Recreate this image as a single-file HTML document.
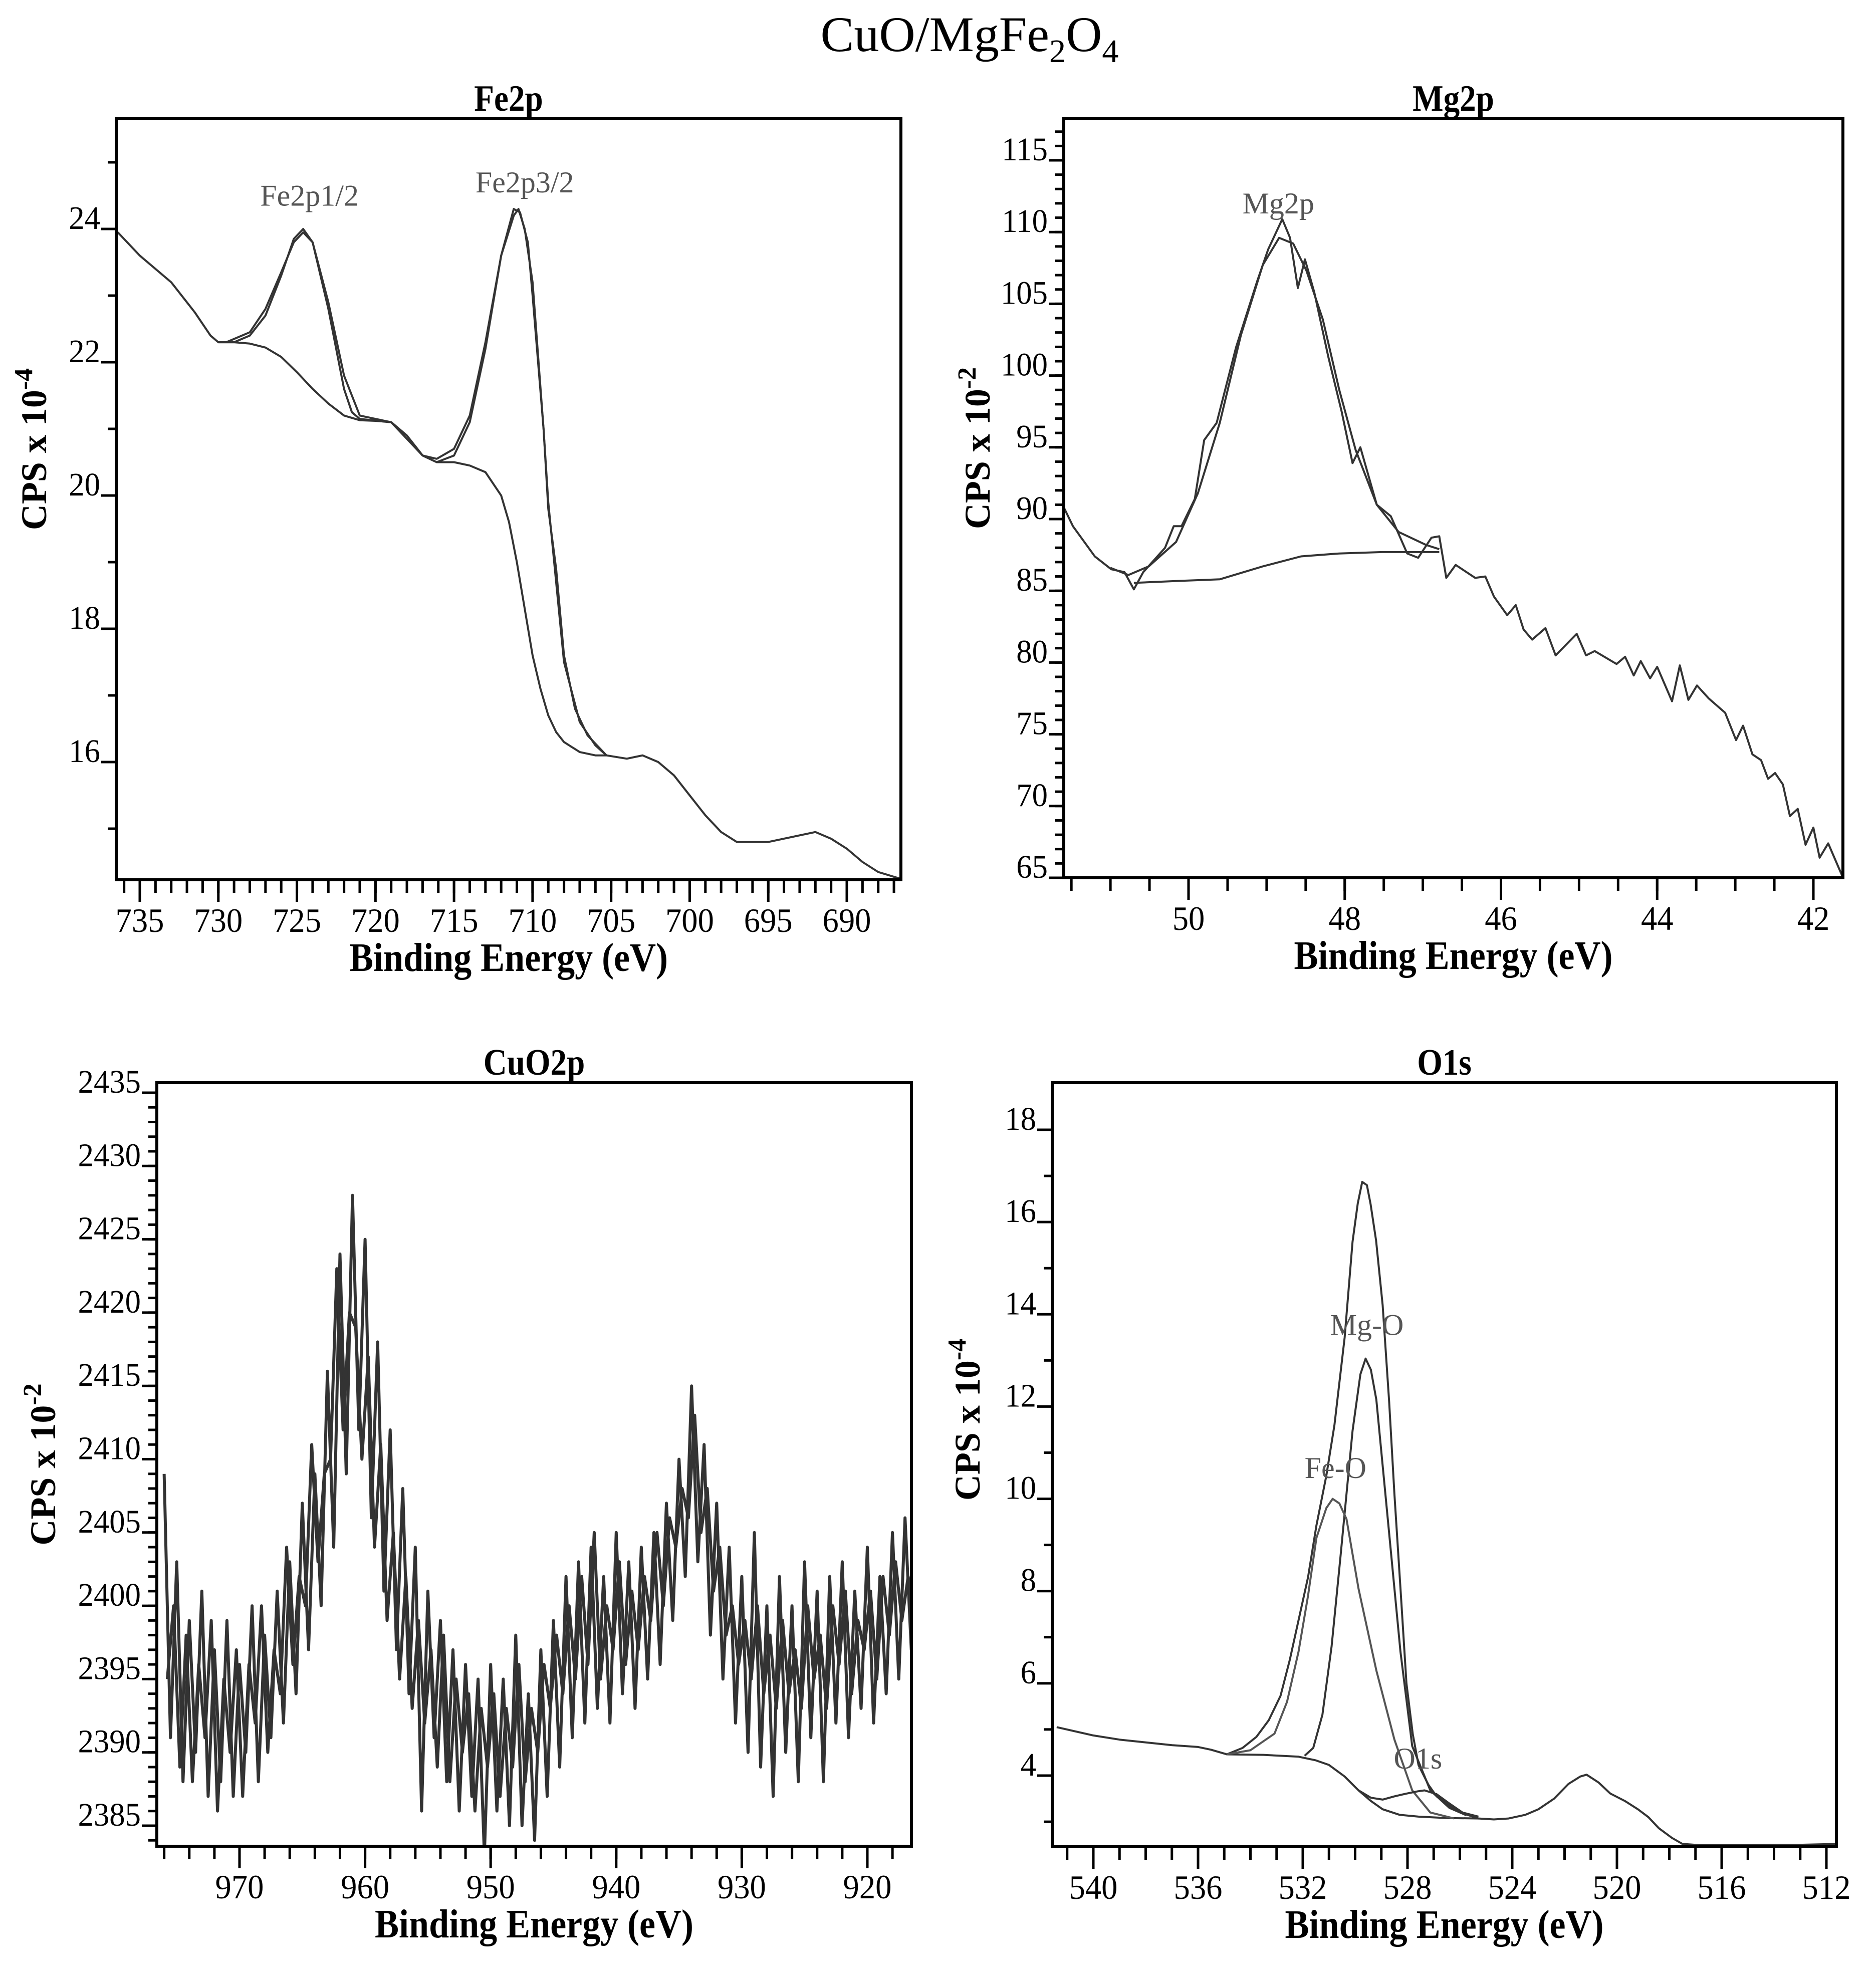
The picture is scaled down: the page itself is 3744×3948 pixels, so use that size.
<!DOCTYPE html>
<html><head><meta charset="utf-8"><title>CuO/MgFe2O4 XPS</title>
<style>html,body{margin:0;padding:0;background:#fff}svg{display:block}</style></head>
<body>
<svg id="fig" xmlns="http://www.w3.org/2000/svg" width="3744" height="3948" viewBox="0 0 3744 3948" font-family="'Liberation Serif', serif">
<text x="1935" y="102" text-anchor="middle" font-size="100" textLength="595" lengthAdjust="spacingAndGlyphs">CuO/MgFe<tspan font-size="66" dy="22">2</tspan><tspan dy="-22">O</tspan><tspan font-size="66" dy="22">4</tspan></text>
</svg>
<script>
// ---------- Fe2p data ----------
const feBE  = [736.4,735,733,731.5,730.5,730,729,728,727,726,725.2,724.6,724,723,722,721,720,719,718,717,716.1,715,714,713,712,711.2,710.8,710.3,710,709.3,709,708.5,708,707.3,706.5,705.3,704,703,702,701,700,699,698,697,695,693,692,691,690,689,688,686.6];
const feRaw = [23.95,23.6,23.2,22.75,22.4,22.3,22.3,22.4,22.7,23.3,23.85,24.0,23.8,22.9,21.8,21.2,21.15,21.1,20.9,20.6,20.5,20.6,21.1,22.2,23.6,24.3,24.25,23.8,23.0,21.0,19.8,18.9,17.6,16.8,16.4,16.1,16.05,16.1,16.0,15.8,15.5,15.2,14.95,14.8,14.8,14.9,14.95,14.85,14.7,14.5,14.35,14.25];
const feBgBE = [730,729,728,727,726,725,724,723,722,721,720,719,718,717,716.1,715,714,713,712,711.5,711,710.5,710,709.5,709,708.5,708,707,706,705.3];
const feBg   = [22.3,22.3,22.28,22.22,22.08,21.85,21.6,21.38,21.2,21.13,21.12,21.1,20.9,20.6,20.5,20.5,20.45,20.35,20.0,19.6,19.0,18.3,17.6,17.1,16.7,16.45,16.3,16.15,16.1,16.1];
const feFitBE = [729.5,728,727,726,725.2,724.6,724,723,722,721.5,721,719,717,716.1,715,714,713,712,711.2,710.9,710.5,710,709.3,709,708.5,708,707,706,705.3];
const feFit   = [22.3,22.45,22.8,23.35,23.8,23.95,23.8,22.8,21.6,21.25,21.15,21.1,20.6,20.55,20.7,21.2,22.3,23.6,24.2,24.3,24.0,23.2,21.0,19.9,18.7,17.5,16.6,16.25,16.1];
const feLabels = ['Fe2p1/2','Fe2p3/2'];
const feLabelBE = [724.2,710.5];
const feLabelY = [24.35,24.55];

// ---------- Mg2p data ----------
const mgBE  = [51.6,51.48,51.2,50.99,50.82,50.7,50.58,50.3,50.19,50.09,49.92,49.8,49.64,49.39,49.12,48.98,48.8,48.7,48.6,48.51,48.39,48.21,48.04,47.9,47.8,47.59,47.41,47.2,47.06,46.89,46.79,46.7,46.58,46.33,46.2,46.09,45.92,45.81,45.71,45.6,45.43,45.3,45.03,44.91,44.8,44.52,44.41,44.3,44.21,44.09,44.0,43.81,43.71,43.6,43.49,43.34,43.13,42.99,42.9,42.78,42.67,42.58,42.49,42.39,42.3,42.2,42.1,42.0,41.92,41.81,41.62];
const mgRaw = [90.85,89.5,87.4,86.5,86.3,85.1,86.3,88.0,89.5,89.5,91.4,95.5,96.7,102,106.6,108.8,110.9,109.6,106.1,108.1,105.8,101.3,97.5,93.9,95,91,90.2,87.6,87.3,88.7,88.8,85.9,86.8,85.9,86,84.6,83.3,84,82.3,81.6,82.4,80.5,82,80.5,80.8,79.9,80.4,79.1,80.1,78.9,79.7,77.3,79.8,77.4,78.4,77.5,76.5,74.6,75.6,73.6,73.2,71.9,72.3,71.5,69.3,69.8,67.3,68.5,66.4,67.4,65.0];
const mgFitBE = [51.0,50.77,50.51,50.16,49.88,49.6,49.33,49.05,48.84,48.66,48.49,48.28,48.07,47.86,47.59,47.31,46.96,46.79];
const mgFit   = [86.6,86.1,86.7,88.4,91.8,96.7,102.8,107.7,109.6,109.2,107.3,103.9,99,94.8,91,89.1,88.2,87.9];
const mgBgBE = [50.7,50.09,49.6,49.05,48.56,48.07,47.52,46.79];
const mgBg   = [85.55,85.7,85.8,86.7,87.4,87.6,87.7,87.7];
const mgLabels = ['Mg2p'];
const mgLabelBE = [48.85];
const mgLabelY = [111.3];

// ---------- CuO2p data ----------
const cuBE = [976,975.5,975,974.5,974,973.5,973,972.5,972,971.5,971,970.5,970,969.5,969,968.5,968,967.5,967,966.5,966,965.5,965,964.5,964,963.5,963,962.5,962,961.5,961,960.5,960,959.5,959,958.5,958,957.5,957,956.5,956,955.5,955,954.5,954,953.5,953,952.5,952,951.5,951,950.5,950,949.5,949,948.5,948,947.5,947,946.5,946,945.5,945,944.5,944,943.5,943,942.5,942,941.5,941,940.5,940,939.5,939,938.5,938,937.5,937,936.5,936,935.5,935,934.5,934,933.5,933,932.5,932,931.5,931,930.5,930,929.5,929,928.5,928,927.5,927,926.5,926,925.5,925,924.5,924,923.5,923,922.5,922,921.5,921,920.5,920,919.5,919,918.5,918,917.5,917,916.5,915.6];
const cuCPS = [2409,2391,2403,2388,2399,2390,2401,2387,2397,2388,2399,2387,2396,2390,2400,2388,2398,2391,2401,2392,2403,2394,2407,2397,2409,2400,2416,2404,2424,2409,2428,2412,2425,2406,2418,2401,2412,2397,2408,2394,2404,2386,2401,2391,2399,2388,2397,2386,2396,2387,2395,2383,2396,2386,2395,2385,2398,2385,2394,2384,2397,2387,2399,2389,2402,2391,2403,2392,2404,2393,2402,2392,2405,2394,2403,2393,2404,2395,2405,2396,2407,2399,2410,2402,2415,2403,2411,2398,2407,2395,2404,2392,2402,2390,2405,2389,2400,2387,2402,2390,2400,2388,2403,2391,2401,2388,2402,2392,2403,2391,2401,2393,2404,2392,2402,2394,2405,2395,2406,2397,2404];
const cuBE2 = [975.75,975.25,974.75,974.25,973.75,973.25,972.75,972.25,971.75,971.25,970.75,970.25,969.75,969.25,968.75,968.25,967.75,967.25,966.75,966.25,965.75,965.25,964.75,964.25,963.75,963.25,962.75,962.25,961.75,961.25,960.75,960.25,959.75,959.25,958.75,958.25,957.75,957.25,956.75,956.25,955.75,955.25,954.75,954.25,953.75,953.25,952.75,952.25,951.75,951.25,950.75,950.25,949.75,949.25,948.75,948.25,947.75,947.25,946.75,946.25,945.75,945.25,944.75,944.25,943.75,943.25,942.75,942.25,941.75,941.25,940.75,940.25,939.75,939.25,938.75,938.25,937.75,937.25,936.75,936.25,935.75,935.25,934.75,934.25,933.75,933.25,932.75,932.25,931.75,931.25,930.75,930.25,929.75,929.25,928.75,928.25,927.75,927.25,926.75,926.25,925.75,925.25,924.75,924.25,923.75,923.25,922.75,922.25,921.75,921.25,920.75,920.25,919.75,919.25,918.75,918.25,917.75,917.25,916.75,916.25];
const cuCPS2 = [2395,2400,2389,2398,2388,2396,2391,2399,2386,2395,2390,2397,2387,2396,2392,2400,2390,2397,2394,2404,2396,2402,2400,2411,2403,2409,2410,2423,2412,2420,2419,2410,2417,2404,2411,2399,2405,2395,2402,2393,2399,2392,2397,2389,2398,2388,2395,2390,2394,2386,2393,2389,2394,2387,2393,2389,2396,2388,2393,2390,2396,2393,2398,2394,2400,2395,2402,2396,2405,2395,2400,2397,2403,2396,2401,2397,2402,2399,2405,2400,2406,2404,2408,2406,2413,2405,2408,2401,2404,2398,2400,2396,2399,2395,2400,2394,2398,2393,2399,2394,2397,2393,2400,2395,2398,2393,2400,2396,2401,2394,2399,2397,2401,2395,2402,2398,2403,2399,2402,2400];

// ---------- O1s data ----------
const oBE  = [541.4,540,539,538,537,536,535.5,534.9,534.3,533.77,533.3,532.85,532.5,532.16,531.8,531.48,531.1,530.79,530.4,530.1,529.9,529.73,529.55,529.41,529.2,528.95,528.7,528.5,528.25,528.04,527.8,527.58,527.2,526.89,526.4,525.98,525.29,524.7,524.14,523.5,523.0,522.4,521.85,521.4,521.16,520.7,520.25,519.7,519.2,518.8,518.4,517.9,517.5,516.8,516.1,515,514,513,511.6];
const oRaw = [5.05,4.87,4.78,4.72,4.66,4.62,4.56,4.46,4.6,4.84,5.2,5.73,6.5,7.37,8.3,9.42,10.5,11.6,13.5,15.57,16.4,16.87,16.8,16.39,15.6,14.2,12.1,10.1,7.9,6.0,4.9,4.23,3.8,3.55,3.35,3.2,3.07,3.05,3.07,3.15,3.27,3.5,3.82,3.98,4.02,3.85,3.61,3.45,3.27,3.1,2.86,2.65,2.52,2.49,2.49,2.49,2.5,2.5,2.52];
const oBgBE = [534.9,533.5,532.16,531.5,531.0,530.4,529.87,529.4,528.95,528.3,527.58,526.5,525.29];
const oBg   = [4.46,4.45,4.41,4.33,4.23,3.98,3.68,3.45,3.27,3.15,3.11,3.08,3.07];
const oMgBE = [531.93,531.6,531.25,530.9,530.56,530.1,529.8,529.6,529.4,529.19,528.73,528.27,527.82,527.13,526.4,525.75];
const oMg   = [4.43,4.6,5.32,6.8,8.74,11.47,12.7,13.04,12.8,12.15,9.42,6.69,4.64,3.68,3.3,3.14];
const oFeBE = [534.9,534,533.08,532.6,532.16,531.8,531.48,531.1,530.86,530.6,530.33,529.87,529.19,528.5,527.82,527.13,526.22];
const oFe   = [4.46,4.55,4.91,5.6,6.69,7.9,9.15,9.8,10.0,9.9,9.56,8.05,6.28,4.78,3.68,3.2,3.07];
const oSmBE = [529.87,529.4,528.95,528.5,528.04,527.6,527.35,526.9,526.44,525.9,525.29];
const oSm   = [3.68,3.52,3.48,3.55,3.61,3.66,3.68,3.6,3.41,3.2,3.11];
const oLabels = ['Mg-O','Fe-O','O1s'];
const oLabelBE = [529.55,530.75,527.6];
const oLabelY = [13.55,10.45,4.15];

const NS = 'http://www.w3.org/2000/svg';
const svg = document.getElementById('fig');
function mk(tag, attrs, parent){const e=document.createElementNS(NS,tag);for(const k in attrs)e.setAttribute(k,attrs[k]);(parent||svg).appendChild(e);return e;}
function linScale(d0,d1,r0,r1){return v=>r0+(v-d0)*(r1-r0)/(d1-d0);}

function panel(p){
  const g = mk('g',{});
  
  
  const X = linScale(p.xA[0],p.xA[1],p.xP[0],p.xP[1]);
  const Y = linScale(p.yA[0],p.yA[1],p.yP[0],p.yP[1]);
  const L=p.box[0],T=p.box[1],R=p.box[2],B=p.box[3];
  const t = mk('text',{x:0,y:0,'font-size':74,'font-weight':'bold','text-anchor':'middle',transform:`translate(${(L+R)/2},${T-16}) scale(0.88,1)`},g);
  t.textContent = p.title;
  
  
  const clip = mk('clipPath',{id:'c'+p.key},g); mk('rect',{x:L,y:T,width:R-L,height:B-T},clip);
  const sg = mk('g',{'clip-path':`url(#c${p.key})`},g);
  p.series.forEach(s=>{
    const d = s.x.map((v,i)=>(i?'L':'M')+X(v).toFixed(1)+','+Y(s.y[i]).toFixed(1)).join('');
    const path = mk('path',{d:d,fill:'none',stroke:s.c||'#333','stroke-width':s.w||4,'stroke-linejoin':'round'},sg);
    
    
  });
  const box = mk('rect',{x:L,y:T,width:R-L,height:B-T,fill:'none',stroke:'#000','stroke-width':6},g);
  
  
  const xg = mk('g',{},g);
  
  
  p.xMinor.forEach(v=>{const x=X(v); if(x<L-1||x>R+1)return; mk('line',{x1:x,y1:B,x2:x,y2:B+26,stroke:'#000','stroke-width':5},xg);});
  p.xMajor.forEach(v=>{const x=X(v); mk('line',{x1:x,y1:B,x2:x,y2:B+44,stroke:'#000','stroke-width':5},xg);
    const tx=mk('text',{x:0,y:0,'font-size':68,'text-anchor':'middle',transform:`translate(${x},${B+104}) scale(0.95,1)`},xg); tx.textContent=String(v);
    
    });
  const yg = mk('g',{},g);
  
  
  p.yMinor.forEach(v=>{const y=Y(v); if(y<T-1||y>B+1)return; mk('line',{x1:L-17,y1:y,x2:L,y2:y,stroke:'#000','stroke-width':5},yg);});
  p.yMajor.forEach(v=>{const y=Y(v); mk('line',{x1:L-30,y1:y,x2:L,y2:y,stroke:'#000','stroke-width':5},yg);
    const ty=mk('text',{x:0,y:0,'font-size':66,'text-anchor':'end',transform:`translate(${L-32},${y}) scale(0.95,1)`},yg); ty.textContent=String(v);
    
    });
  const xt = mk('text',{x:0,y:0,'font-size':80,'font-weight':'bold','text-anchor':'middle',transform:`translate(${(L+R)/2},${B+182}) scale(0.9,1)`},g);
  xt.textContent='Binding Energy (eV)';
  
  
  const yt = mk('text',{x:0,y:0,'font-size':72,'font-weight':'bold','text-anchor':'middle',transform:`translate(${p.ytX},${(T+B)/2+p.ytDy}) rotate(-90)`},g);
  yt.innerHTML = p.ytText+'<tspan font-size="52" dy="-28">'+p.ytExp+'</tspan>';
  
  
  (p.labels||[]).forEach((s,i)=>{
    const lb = mk('text',{x:X(p.lBE[i]),y:Y(p.lY[i]),'font-size':60,'text-anchor':'middle',fill:'#555'},g);
    lb.textContent=s;
    
    
  });
}
function rng(a,b,s){const r=[];for(let v=a;v<=b+1e-9;v+=s)r.push(Math.round(v*100)/100);return r;}

panel({key:'fe2p',title:'Fe2p',box:[232,237,1798,1756],xA:[735,690],xP:[279,1690],yA:[24,16],yP:[457,1521],
  xMajor:[735,730,725,720,715,710,705,700,695,690],xMinor:rng(686,737,1),yMajor:[16,18,20,22,24],yMinor:[15,17,19,21,23,25],
  ytX:92,ytDy:-100,ytText:'CPS x 10',ytExp:'-4',
  series:[{n:'raw-spectrum',x:feBE,y:feRaw},{n:'envelope-fit',x:feFitBE,y:feFit},{n:'background',x:feBgBE,y:feBg}],
  labels:feLabels,lBE:feLabelBE,lY:feLabelY});

panel({key:'mg2p',title:'Mg2p',box:[2123,237,3678,1752],xA:[50,42],xP:[2372,3619],yA:[115,65],yP:[320,1752],
  xMajor:[50,48,46,44,42],xMinor:rng(41.5,51.5,0.5),yMajor:[65,70,75,80,85,90,95,100,105,110,115],yMinor:rng(66,117,1),
  ytX:1975,ytDy:-100,ytText:'CPS x 10',ytExp:'-2',
  series:[{n:'raw-spectrum',x:mgBE,y:mgRaw},{n:'peak-fit',x:mgFitBE,y:mgFit},{n:'background',x:mgBgBE,y:mgBg}],
  labels:mgLabels,lBE:mgLabelBE,lY:mgLabelY});

panel({key:'cuo2p',title:'CuO2p',box:[313,2161,1819,3685],xA:[970,920],xP:[478,1731],yA:[2435,2385],yP:[2181,3644],
  xMajor:[970,960,950,940,930,920],xMinor:rng(916,976,2),yMajor:[2385,2390,2395,2400,2405,2410,2415,2420,2425,2430,2435],yMinor:rng(2384,2435,1),
  ytX:110,ytDy:0,ytText:'CPS x 10',ytExp:'-2',
  series:[{n:'raw-spectrum',x:cuBE,y:cuCPS,w:6},{n:'raw-spectrum-interleaved',x:cuBE2,y:cuCPS2,w:6}]});

panel({key:'o1s',title:'O1s',box:[2100,2161,3665,3686],xA:[540,512],xP:[2182,3645],yA:[18,4],yP:[2255,3544],
  xMajor:[540,536,532,528,524,520,516,512],xMinor:rng(512,541,1),yMajor:[4,6,8,10,12,14,16,18],yMinor:[3,5,7,9,11,13,15,17],
  ytX:1955,ytDy:-90,ytText:'CPS x 10',ytExp:'-4',
  series:[{n:'raw-spectrum',x:oBE,y:oRaw},{n:'background',x:oBgBE,y:oBg},{n:'mg-o-component',x:oMgBE,y:oMg},{n:'fe-o-component',x:oFeBE,y:oFe,c:'#555'},{n:'o1s-component',x:oSmBE,y:oSm}],
  labels:oLabels,lBE:oLabelBE,lY:oLabelY});
</script>
</body></html>
